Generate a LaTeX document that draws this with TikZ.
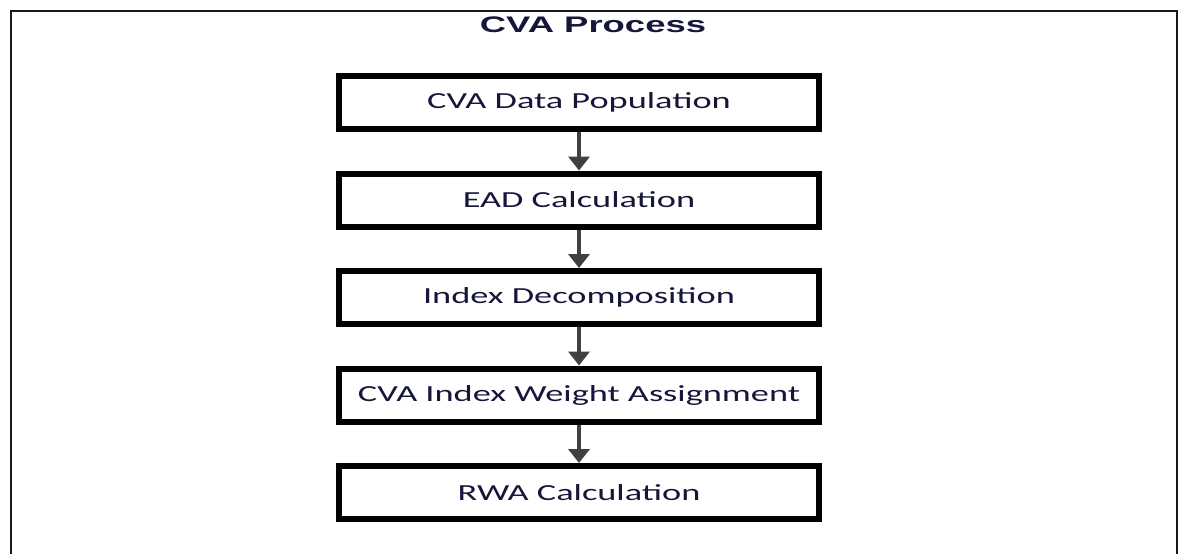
\documentclass[tikz,border=0pt]{standalone}
\usepackage{fontspec}
\usetikzlibrary{arrows.meta}
\newfontfamily\boxfont{Carlito}
\newfontfamily\titlefont{Liberation Sans}
\definecolor{txtnavy}{RGB}{22,22,58}
\definecolor{arrgray}{RGB}{64,64,64}
\tikzset{
  stepbox/.style={draw=black, line width=6pt, minimum width=480pt, minimum height=53pt,
    inner sep=0pt, font=\boxfont\fontsize{23}{27}\selectfont, text=txtnavy},
  flowarrow/.style={draw=arrgray, line width=3.6pt, -{Triangle[width=21pt,length=14pt]}},
  frame/.style={draw=black!90, line width=2.5pt}
}
\begin{document}
\begin{tikzpicture}[x=1pt,y=1pt]
\useasboundingbox (0,0) rectangle (1184,-554);
\draw[frame] (11,-560) -- (11,-11) -- (1177,-11) -- (1177,-560);
\node[font=\titlefont\bfseries\fontsize{22.5}{26}\selectfont, text=txtnavy] (title) at (593,-25) {\scalebox{1.62}[1]{CVA Process}};
\node[stepbox] (b1) at (579,-102.5) {\scalebox{1.58}[1]{CVA Data Population}};
\node[stepbox] (b2) at (579,-200) {\scalebox{1.58}[1]{EAD Calculation}};
\node[stepbox] (b3) at (579,-297.5) {\scalebox{1.58}[1]{Index Decomposition}};
\node[stepbox] (b4) at (579,-395) {\scalebox{1.58}[1]{CVA Index Weight Assignment}};
\node[stepbox] (b5) at (579,-492.5) {\scalebox{1.58}[1]{RWA Calculation}};
\draw[flowarrow] (b1.south) -- (b2.north);
\draw[flowarrow] (b2.south) -- (b3.north);
\draw[flowarrow] (b3.south) -- (b4.north);
\draw[flowarrow] (b4.south) -- (b5.north);
\end{tikzpicture}
\end{document}
